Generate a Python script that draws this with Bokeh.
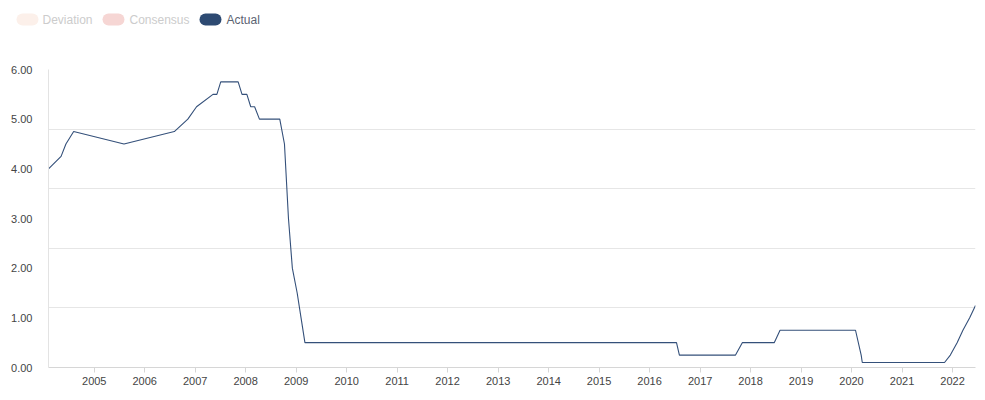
import pandas as pd
from bokeh.plotting import figure
from bokeh.layouts import column
from bokeh.models import (FixedTicker, PrintfTickFormatter, DatetimeTickFormatter,
                          Range1d)
from bokeh.core.properties import value
from bokeh.embed import file_html
from bokeh.resources import INLINE

# ---- data (UK bank rate) ----
dates = ["2004-02-05", "2004-05-06", "2004-06-10", "2004-08-05", "2005-08-04",
         "2006-08-03", "2006-11-09", "2007-01-11", "2007-05-10", "2007-06-07",
         "2007-07-05", "2007-11-08", "2007-12-06", "2008-01-10", "2008-02-07",
         "2008-03-06", "2008-04-10", "2008-09-04", "2008-10-08", "2008-11-06",
         "2008-12-04", "2009-01-08", "2009-02-05", "2009-03-05", "2016-07-14",
         "2016-08-04", "2017-09-14", "2017-11-02", "2018-06-21", "2018-08-02",
         "2020-01-30", "2020-03-11", "2020-03-19", "2021-11-04", "2021-12-16",
         "2022-02-03", "2022-03-17", "2022-05-05", "2022-06-16"]
actual = [4.00, 4.25, 4.50, 4.75, 4.50,
          4.75, 5.00, 5.25, 5.50, 5.50,
          5.75, 5.75, 5.50, 5.50, 5.25,
          5.25, 5.00, 5.00, 4.50, 3.00,
          2.00, 1.50, 1.00, 0.50, 0.50,
          0.25, 0.25, 0.50, 0.50, 0.75,
          0.75, 0.25, 0.10, 0.10, 0.25,
          0.50, 0.75, 1.00, 1.25]
year_ticks = list(range(2005, 2023))
y_label_ticks = [0, 1, 2, 3, 4, 5, 6]
y_grid_ticks = [1.2, 2.4, 3.6, 4.8, 6.0]
legend_labels = ["Deviation", "Consensus", "Actual"]
legend_pill_colors = ["#fcf0ea", "#f6d6d4", "#2d4a72"]
legend_text_colors = ["#cccccc", "#cccccc", "#5b6372"]

x = pd.to_datetime(dates)
FONT = "Liberation Sans"

# ---- legend strip (pixel coordinates) ----
W = 985
lg = figure(width=W, height=30, output_backend="svg", toolbar_location=None,
            x_axis_location=None, y_axis_location=None,
            x_range=Range1d(0, W), y_range=Range1d(0, 30), min_border=0)
lg.frame_align = False
lg.outline_line_color = None
lg.grid.visible = False
pill_left = [22, 108, 205]   # layout: start of each pill (inside rounded caps)
pill_len = 10
text_x = [42, 129, 226]
cy = 11
lg.segment(x0=pill_left, y0=[cy] * 3, x1=[v + pill_len for v in pill_left],
           y1=[cy] * 3, line_color=legend_pill_colors, line_width=12,
           line_cap="round")
lg.text(x=text_x, y=[cy] * 3, text=legend_labels, text_color=legend_text_colors,
        text_font=value(FONT), text_font_size="12px", text_baseline="middle",
        text_align="left")

# ---- main chart ----
p = figure(width=W, height=370, x_axis_type="datetime",
           output_backend="svg", toolbar_location=None,
           x_range=Range1d(x[0], x[-1]), y_range=Range1d(0, 6),
           min_border_left=48, min_border_right=10, min_border_top=39,
           min_border_bottom=33)
p.frame_align = False
p.outline_line_color = None

p.line(x, actual, line_color="#34507a", line_width=1.1)

tick_ms = [pd.Timestamp(f"{yr}-01-01").value / 1e6 for yr in year_ticks]
p.xaxis.ticker = FixedTicker(ticks=tick_ms)
p.xaxis.formatter = DatetimeTickFormatter(years="%Y", months="%Y", days="%Y",
                                          hours="%Y", minutes="%Y")
p.xaxis.axis_line_color = "#d6d6d6"
p.xaxis.major_tick_line_color = "#d6d6d6"
p.xaxis.major_tick_out = 5
p.xaxis.major_tick_in = 0
p.xaxis.minor_tick_line_color = None
p.xaxis.major_label_standoff = 4
p.xaxis.major_label_text_font = FONT
p.xaxis.major_label_text_font_size = "11px"
p.xaxis.major_label_text_color = "#444444"

p.yaxis.ticker = FixedTicker(ticks=y_label_ticks)
p.yaxis.formatter = PrintfTickFormatter(format="%.2f")
p.yaxis.axis_line_color = "#e3e3e3"
p.yaxis.major_tick_line_color = None
p.yaxis.minor_tick_line_color = None
p.yaxis.major_label_standoff = 10
p.yaxis.major_label_text_font = FONT
p.yaxis.major_label_text_font_size = "11px"
p.yaxis.major_label_text_color = "#444444"

p.xgrid.grid_line_color = None
p.ygrid.ticker = FixedTicker(ticks=y_grid_ticks)
p.ygrid.grid_line_color = "#e6e6e6"
p.ygrid.grid_line_width = 1

open("out.html", "w").write(file_html(column(lg, p, spacing=0), INLINE))
